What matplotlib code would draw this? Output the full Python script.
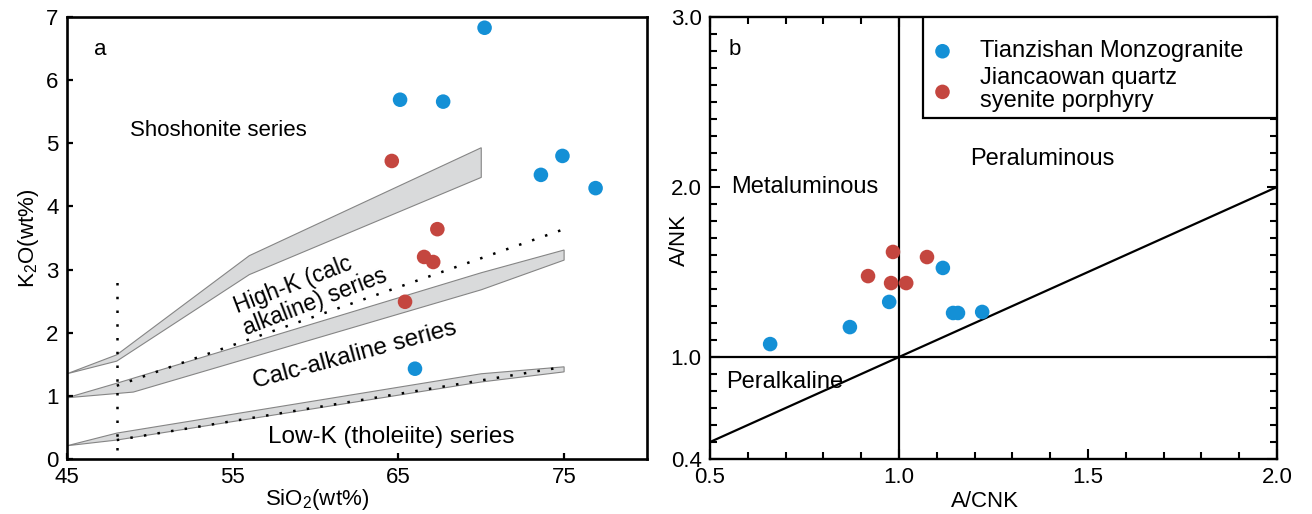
import matplotlib

matplotlib.use("Agg")
import matplotlib.pyplot as plt
from matplotlib.patches import Rectangle
from matplotlib.ticker import FixedLocator, MultipleLocator

plt.rcParams["font.family"] = ["Liberation Sans", "DejaVu Sans"]
plt.rcParams["mathtext.default"] = "regular"

BLUE = "#1490d6"
RED = "#c4463f"
BAND = "#d9dadb"

# --- panel a: K2O vs SiO2 -------------------------------------------------
tz_sio2 = [70.2, 65.1, 67.7, 74.9, 73.6, 76.9, 66.0]
tz_k2o = [6.83, 5.69, 5.66, 4.80, 4.50, 4.29, 1.43]
jc_sio2 = [64.6, 67.35, 66.55, 67.1, 65.4]
jc_k2o = [4.72, 3.64, 3.20, 3.12, 2.49]

# series boundary bands (upper edge left->right, then lower edge right->left)
shosh_upper = [(45, 1.35), (48, 1.65), (56, 3.22), (70, 4.93)]
shosh_lower = [(70, 4.46), (56, 2.92), (48, 1.55), (45, 1.35)]
highk_upper = [(45, 0.97), (48, 1.20), (70, 2.95), (75, 3.31)]
highk_lower = [(75, 3.15), (70, 2.68), (49, 1.06), (45, 0.97)]
lowk_upper = [(45, 0.21), (48, 0.41), (70, 1.35), (75, 1.46)]
lowk_lower = [(75, 1.38), (70, 1.22), (48, 0.30), (45, 0.21)]

# Peccerillo & Taylor dotted boundaries
pt_highk = [(48, 1.16), (75, 3.64)]
pt_lowk = [(48, 0.30), (75, 1.46)]
pt_basalt = [(48, 0.15), (48, 2.80)]

# --- panel b: A/NK vs A/CNK -----------------------------------------------
tz_acnk = [0.659, 0.870, 0.974, 1.116, 1.143, 1.156, 1.220]
tz_ank = [1.076, 1.176, 1.324, 1.524, 1.259, 1.259, 1.265]
jc_acnk = [0.984, 1.074, 0.918, 0.979, 1.019]
jc_ank = [1.618, 1.588, 1.476, 1.435, 1.435]

diag_line = [0.5, 2.0]

FS = 16
FS_B = 17

fig = plt.figure(figsize=(13.12, 5.14), dpi=100)
ax_a = fig.add_axes([0.0511, 0.1070, 0.4420, 0.8599])
ax_b = fig.add_axes([0.5412, 0.1070, 0.4321, 0.8599])

# panel a
for upper, lower in [(shosh_upper, shosh_lower), (highk_upper, highk_lower),
                     (lowk_upper, lowk_lower)]:
    pts = upper + lower
    ax_a.fill([p[0] for p in pts], [p[1] for p in pts], facecolor=BAND,
              edgecolor="#858585", linewidth=0.8, zorder=1)

for line in (pt_highk, pt_lowk, pt_basalt):
    ax_a.plot([p[0] for p in line], [p[1] for p in line], color="black",
              linestyle=(0, (1, 4.5)), linewidth=1.8, zorder=2)

ax_a.scatter(tz_sio2, tz_k2o, s=110, color=BLUE, edgecolors="none", zorder=4)
ax_a.scatter(jc_sio2, jc_k2o, s=110, color=RED, edgecolors="none", zorder=4)

ax_a.set_xlim(45, 80)
ax_a.set_ylim(0, 7)
ax_a.xaxis.set_major_locator(FixedLocator([45, 55, 65, 75]))
ax_a.yaxis.set_major_locator(MultipleLocator(1))
ax_a.tick_params(direction="in", length=4, width=1.6, labelsize=FS, pad=6)
for sp in ax_a.spines.values():
    sp.set_linewidth(1.9)
ax_a.set_xlabel("SiO$_2$(wt%)", fontsize=FS)
ax_a.xaxis.set_label_coords(0.431, -0.064)
ax_a.set_ylabel("K$_2$O(wt%)", fontsize=FS, labelpad=4)

ax_a.text(47.0, 6.48, "a", fontsize=FS, ha="center", va="center")
ax_a.text(48.8, 5.21, "Shoshonite series", fontsize=FS, ha="left", va="center")
ax_a.text(59.7, 2.66, "High-K (calc\nalkaline) series", fontsize=16.5,
          ha="center", va="center", rotation=21, rotation_mode="anchor",
          multialignment="left", linespacing=1.0)
ax_a.text(62.35, 1.64, "Calc-alkaline series", fontsize=17.5, ha="center",
          va="center", rotation=15, rotation_mode="anchor")
ax_a.text(57.1, 0.35, "Low-K (tholeiite) series", fontsize=17.5, ha="left",
          va="center")

# panel b
ax_b.axhline(1.0, color="black", linewidth=1.6, zorder=2)
ax_b.axvline(1.0, color="black", linewidth=1.6, zorder=2)
ax_b.plot(diag_line, diag_line, color="black", linewidth=1.6, zorder=2)

ax_b.scatter(tz_acnk, tz_ank, s=110, color=BLUE, edgecolors="none", zorder=4,
             label="Tianzishan Monzogranite")
ax_b.scatter(jc_acnk, jc_ank, s=110, color=RED, edgecolors="none", zorder=4,
             label="Jiancaowan quartz\nsyenite porphyry")

ax_b.set_xlim(0.5, 2.0)
ax_b.set_ylim(0.4, 3.0)
ax_b.xaxis.set_major_locator(FixedLocator([0.5, 1.0, 1.5, 2.0]))
ax_b.xaxis.set_minor_locator(MultipleLocator(0.1))
ax_b.yaxis.set_major_locator(FixedLocator([0.4, 1.0, 2.0, 3.0]))
ax_b.yaxis.set_minor_locator(MultipleLocator(0.1))
ax_b.xaxis.set_major_formatter(plt.FormatStrFormatter("%.1f"))
ax_b.yaxis.set_major_formatter(plt.FormatStrFormatter("%.1f"))
ax_b.tick_params(which="both", direction="in", top=True, right=True,
                 width=1.5, labelsize=FS)
ax_b.tick_params(which="major", length=7, pad=6)
ax_b.tick_params(which="minor", length=5)
for sp in ax_b.spines.values():
    sp.set_linewidth(1.7)
ax_b.set_xlabel("A/CNK", fontsize=FS)
ax_b.xaxis.set_label_coords(0.485, -0.072)
ax_b.set_ylabel("A/NK", fontsize=FS)
ax_b.yaxis.set_label_coords(-0.035, 0.495)

ax_b.text(0.566, 2.806, "b", fontsize=FS, ha="center", va="center")
ax_b.text(0.556, 2.0, "Metaluminous", fontsize=FS_B, ha="left", va="center")
ax_b.text(1.188, 2.165, "Peraluminous", fontsize=FS_B, ha="left", va="center")
ax_b.text(0.542, 0.853, "Peralkaline", fontsize=FS_B, ha="left", va="center")

# legend box in the upper right corner
ax_b.add_patch(Rectangle((0.3757, 0.7715), 0.6243, 0.2285,
                         transform=ax_b.transAxes, facecolor="white",
                         edgecolor="black", linewidth=1.6, zorder=5))
leg = ax_b.legend(loc="upper left", bbox_to_anchor=(0.385, 0.947),
                  borderaxespad=0, borderpad=0, fontsize=FS_B, frameon=False,
                  scatterpoints=1, handletextpad=1.0, labelspacing=0.2,
                  handlelength=1.2)
leg.set_zorder(6)
leg.get_texts()[1].set_linespacing(1.05)

fig.savefig("out.png", dpi=100)
